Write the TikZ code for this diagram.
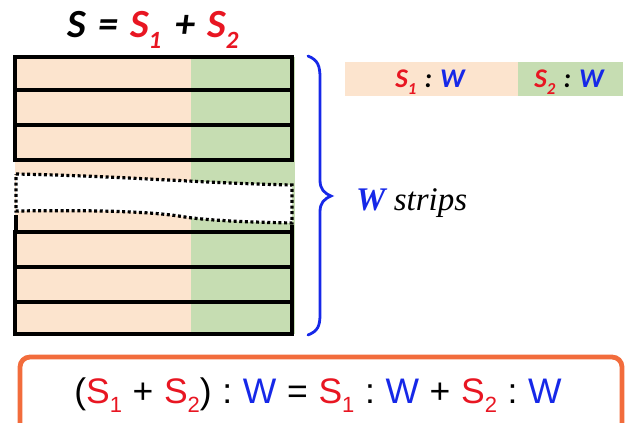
\documentclass[tikz,border=0pt]{standalone}
\usepackage{fontspec}
\usepackage{graphicx}
\newfontfamily\carlito{Carlito}
\newfontfamily\lserif{Liberation Serif}
\newfontfamily\lsans{Liberation Sans}
\definecolor{peach}{RGB}{252,228,206}
\definecolor{sage}{RGB}{198,221,178}
\definecolor{myred}{RGB}{232,22,34}
\definecolor{myblue}{RGB}{22,40,232}
\definecolor{myorange}{RGB}{242,108,60}
\newcommand\lowsub[1]{\raisebox{-0.28em}{\scalebox{0.62}{#1}}}
\tikzset{
  strip/.style={draw=black, line width=3.2pt},
  dotline/.style={draw=black, line width=3.2pt, dash pattern=on 3pt off 2.6pt},
  brace/.style={draw=myblue, line width=2.8pt, line cap=round},
  txt/.style={anchor=base, inner sep=0pt}
}
\begin{document}
\begin{tikzpicture}[x=1pt,y=-1pt]
\useasboundingbox (0,0) rectangle (627,423);
% background colours
\fill[peach] (15,57) rectangle (191,334);
\fill[sage] (191,57) rectangle (295,334);
% upper block
\draw[strip] (15,57) rectangle (292,160);
\draw[strip] (15,90) -- (292,90);
\draw[strip] (15,125) -- (292,125);
\draw[strip] (15,143) -- (15,160);
% lower block
\draw[strip] (15,232) rectangle (292,334);
\draw[strip] (15,267) -- (292,267);
\draw[strip] (15,302) -- (292,302);
\draw[strip] (16,215) -- (16,232);
\draw[strip] (292,225) -- (292,232);
% displaced strip
\fill[white] (16,174) .. controls (120,176) and (200,183) .. (292,185)
  -- (292,223) .. controls (240,222) and (205,220) .. (185,217)
  .. controls (150,211) and (90,210) .. (16,211) -- cycle;
\draw[dotline] (16,174) .. controls (120,176) and (200,183) .. (292,185)
  -- (292,223) .. controls (240,222) and (205,220) .. (185,217)
  .. controls (150,211) and (90,210) .. (16,211) -- cycle;
% brace
\draw[brace] (308,56) .. controls (318,60) and (320,66) .. (320,78)
  -- (320,180) .. controls (320,189) and (324,193) .. (331,196)
  .. controls (324,199) and (320,203) .. (320,212)
  -- (320,314) .. controls (320,326) and (318,331) .. (308,335);
% title
\node[txt] (title) at (153,37) {\carlito\bfseries\itshape\fontsize{40}{44}\selectfont
  S\hspace{0.3em}=\hspace{0.3em}{\color{myred}S\lowsub{1}}\hspace{0.35em}+\hspace{0.3em}{\color{myred}S\lowsub{2}}};
% legend
\fill[peach] (345,62) rectangle (518,96);
\fill[sage] (518,62) rectangle (623,96);
\node[txt] (leg1) at (430,87) {\carlito\bfseries\itshape\fontsize{27}{30}\selectfont
  {\color{myred}S\lowsub{1}}\hspace{0.3em}:\hspace{0.3em}{\color{myblue}W}};
\node[txt] (leg2) at (569,87) {\carlito\bfseries\itshape\fontsize{27}{30}\selectfont
  {\color{myred}S\lowsub{2}}\hspace{0.3em}:\hspace{0.3em}{\color{myblue}W}};
% W strips
\node[txt, anchor=base west] (wstrips) at (356,210) {\lserif\fontsize{33}{36}\selectfont
  {\bfseries\itshape\color{myblue}W} \textit{strips}};
% bottom box
\draw[draw=myorange, line width=4.8pt, rounded corners=10pt] (20,357) rectangle (622,440);
\node[txt] (eq) at (318,403) {\lsans\fontsize{35.5}{40}\selectfont
  (\textcolor{myred}{S\lowsub{1}}\hspace{0.3em}+\hspace{0.3em}\textcolor{myred}{S\lowsub{2}})\hspace{0.3em}:\hspace{0.3em}\textcolor{myblue}{W}\hspace{0.3em}=\hspace{0.3em}\textcolor{myred}{S\lowsub{1}}\hspace{0.3em}:\hspace{0.3em}\textcolor{myblue}{W}\hspace{0.3em}+\hspace{0.3em}\textcolor{myred}{S\lowsub{2}}\hspace{0.3em}:\hspace{0.3em}\textcolor{myblue}{W}};
\end{tikzpicture}
\end{document}
